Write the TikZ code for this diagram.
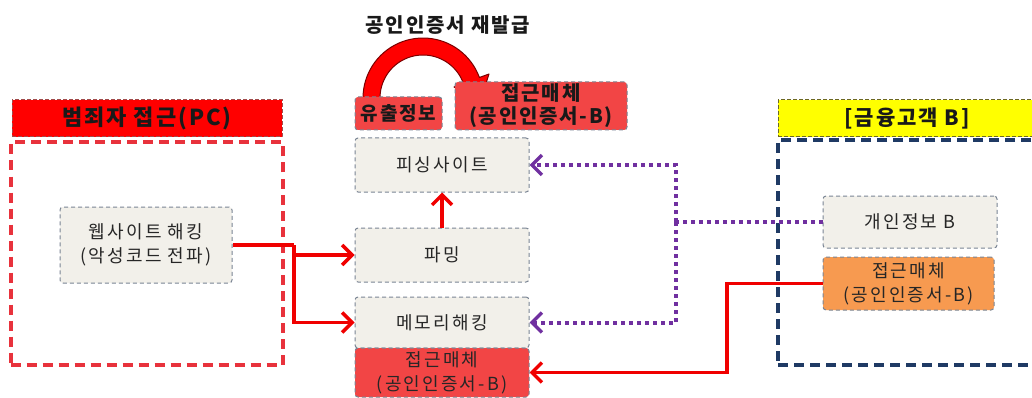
\documentclass[tikz,border=0pt]{standalone}
\usepackage{fontspec}
\newfontfamily\kr[LetterSpace=9]{Noto Sans CJK KR}
\newfontfamily\krs[LetterSpace=12]{Noto Sans CJK KR}
\usetikzlibrary{arrows.meta}
\definecolor{boxfill}{HTML}{F2F0EA}
\definecolor{boxline}{HTML}{7A8594}
\definecolor{hred}{HTML}{FF0000}
\definecolor{rbox}{HTML}{F24545}
\definecolor{obox}{HTML}{F79A50}
\definecolor{lred}{HTML}{E8323C}
\definecolor{navy}{HTML}{1F3A64}
\definecolor{purp}{HTML}{7030A0}
\definecolor{arrred}{HTML}{F00000}
\definecolor{yel}{HTML}{FFFF00}
\definecolor{darkred}{HTML}{7A0000}
\tikzset{
  box/.style={draw=boxline, dash pattern=on 4pt off 3pt, line width=1pt, fill=boxfill,
    rounded corners=3pt, inner sep=0pt, align=center, text=black!85,
    font=\krs\fontsize{18}{24}\selectfont},
  redbox/.style={box, fill=rbox},
  orangebox/.style={box, fill=obox},
  boldtxt/.style={font=\kr\bfseries\fontsize{#1}{\dimexpr #1pt+3pt\relax}\selectfont, text=black!90},
  container/.style={line width=4pt, dash pattern=on 10pt off 6pt, inner sep=0pt},
  header/.style={draw=darkred!70, dash pattern=on 4pt off 2pt, line width=1pt, inner sep=0pt},
  redline/.style={draw=arrred, line width=3.5pt},
  redarrow/.style={redline, -{Straight Barb[length=10pt,width=20pt,line width=3.5pt]}},
  purpline/.style={draw=purp, line width=4pt, dash pattern=on 4pt off 4pt},
  purparrow/.style={purpline, -{Straight Barb[length=10pt,width=20pt,line width=3.5pt]}}
}
\begin{document}
\begin{tikzpicture}[x=1pt,y=-1pt]
\useasboundingbox (0,0) rectangle (1032,398);
\clip (0,0) rectangle (1032,398);
\fill[white] (0,0) rectangle (1032,398);

% containers
\node[container, draw=lred, minimum width=272pt, minimum height=222pt] (lbox) at (146.5,253.5) {};
\node[header, fill=hred, minimum width=270pt, minimum height=37pt, boldtxt=22] (lhead) at (147,118.5) {범죄자 접근(PC)};
\node[container, draw=navy, minimum width=270pt, minimum height=225pt] (rbox) at (913,252.5) {};
\node[header, draw=olive!70!black, fill=yel, minimum width=258pt, minimum height=37pt, boldtxt=21] (rhead) at (907,118.5) {[금융고객 B]};

% title and curved arrow
\node[boldtxt=20] (title) at (448,25) {공인인증서 재발급};
\filldraw[fill=red, draw=darkred, line width=1pt, line join=round]
  (380,106) -- (363,106)
  -- plot[domain=180:20, samples=40, variable=\t] ({423+60*cos(\t)},{98-60*sin(\t)})
  -- (489,74) -- (480,102) -- (454,87)
  -- plot[domain=20:180, samples=40, variable=\t] ({423+43*cos(\t)},{98-43*sin(\t)})
  -- cycle;
\node[redbox, minimum width=87pt, minimum height=33pt, boldtxt=19] (leak) at (398.5,113.5) {유출정보};
\node[redbox, minimum width=172pt, minimum height=48pt, boldtxt=20, align=center] (topB) at (541,106) {접근매체\\(공인인증서-B)};

% centre column
\node[box, minimum width=174pt, minimum height=54pt] (phish) at (442,165) {피싱사이트};
\node[box, minimum width=174pt, minimum height=54pt] (pharm) at (442,255) {파밍};
\node[box, minimum width=174pt, minimum height=51pt] (mem) at (442,322.5) {메모리해킹};
\node[redbox, minimum width=174pt, minimum height=49pt] (redB) at (442,372.5) {접근매체\\(공인인증서-B)};

% left
\node[box, minimum width=172pt, minimum height=76pt] (web) at (146,245) {웹사이트 해킹\\(악성코드 전파)};

% right
\node[box, minimum width=174pt, minimum height=52pt] (info) at (910,222) {개인정보 B};
\node[orangebox, minimum width=171pt, minimum height=53pt] (orB) at (908.5,283.5) {접근매체\\(공인인증서-B)};

% red connectors
\coordinate (j) at (294,245);
\draw[redline] (web.east) -- (j);
\draw[redarrow] (j) |- (mem.west);
\draw[redarrow] (j |- pharm.west) -- (pharm.west);
\draw[redarrow] (pharm.north) -- (phish.south);
\coordinate (r) at (727,372.5);
\draw[redarrow] (orB.west) -| (r) -- (redB.east);

% purple connectors
\coordinate (p) at (676,222);
\draw[purpline] (info.west) -- (p);
\draw[purparrow] (p) |- (phish.east);
\draw[purparrow] (p) |- (mem.east);
\end{tikzpicture}
\end{document}
